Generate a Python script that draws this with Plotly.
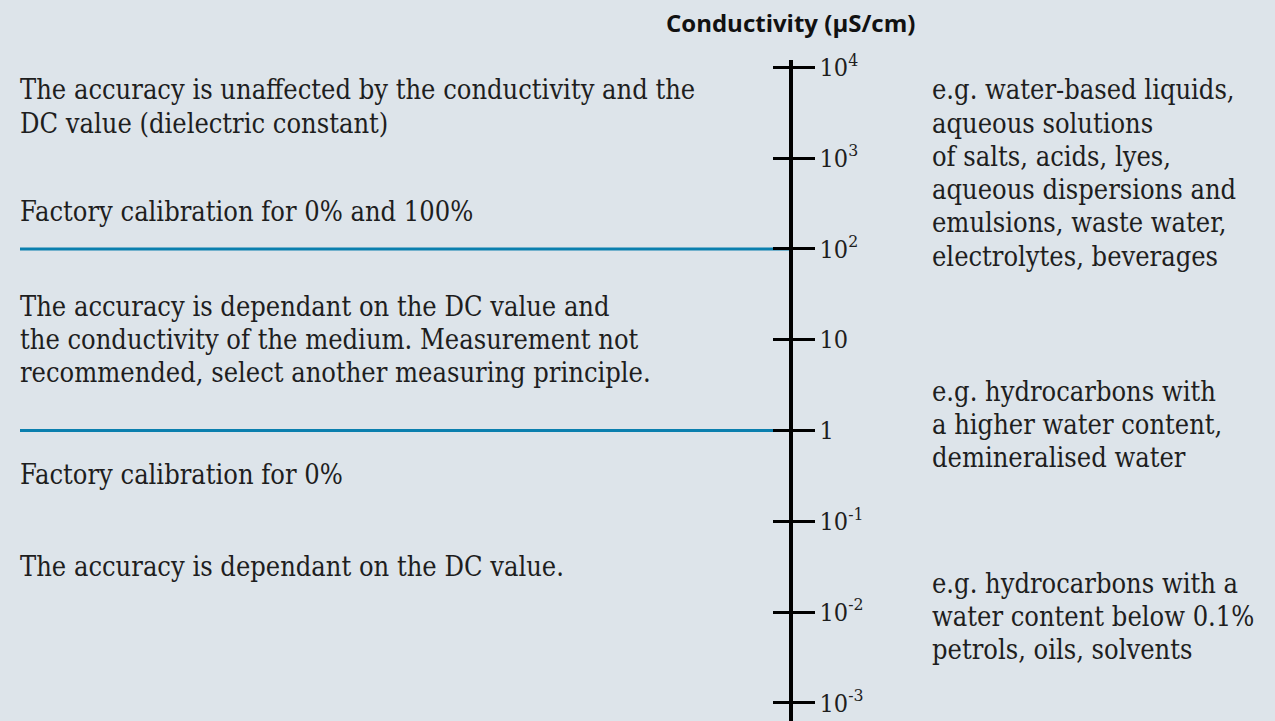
import plotly.graph_objects as go

# ---- data ----
decade_values = [1e4, 1e3, 1e2, 1e1, 1e0, 1e-1, 1e-2, 1e-3]
tick_labels = ["10<sup>4</sup>", "10<sup>3</sup>", "10<sup>2</sup>", "10", "1",
               "10<sup>-1</sup>", "10<sup>-2</sup>", "10<sup>-3</sup>"]
calibration_limits = [1e2, 1e0]

axis_title = "Conductivity (μS/cm)"

left_texts = [
    ["The accuracy is unaffected by the conductivity and the",
     "DC value (dielectric constant)"],
    ["Factory calibration for 0% and 100%"],
    ["The accuracy is dependant on the DC value and",
     "the conductivity of the medium. Measurement not",
     "recommended, select another measuring principle."],
    ["Factory calibration for 0%"],
    ["The accuracy is dependant on the DC value."],
]
right_texts = [
    ["e.g. water-based liquids,", "aqueous solutions", "of salts, acids, lyes,",
     "aqueous dispersions and", "emulsions, waste water,", "electrolytes, beverages"],
    ["e.g. hydrocarbons with", "a higher water content,", "demineralised water"],
    ["e.g. hydrocarbons with a", "water content below 0.1%", "petrols, oils, solvents"],
]

# ---- layout constants ----
W, H = 1275, 721
BG = "#dde4ea"
BLUE = "#0a7fae"
TXT = "#1e1e1e"
FONT = "DejaVu Serif Condensed, DejaVu Serif"
FS = 27
TICK_FS = 25
LINE = 33.8
AX_X = 790.5 / W

# first-line pixel centres of each block
left_tops = [80, 204, 300, 471, 564]
right_tops = [80, 386, 581]
LEFT_X = 18 / W
RIGHT_X = 930 / W
LINE_X0 = 20 / W

# log axis mapping (px per decade)
px_per_dec = 92.2
ref_k, ref_px = 0.0, 426.0
top_px = 50
k_top = ref_k + (ref_px - top_px) / px_per_dec
k_bot = ref_k - (H - ref_px) / px_per_dec
dom_top = 1 - top_px / H

fig = go.Figure()
fig.add_trace(go.Scatter(x=[AX_X] * len(decade_values), y=decade_values, mode="markers",
                         marker=dict(opacity=0), hoverinfo="skip", showlegend=False,
                         xaxis="x", yaxis="y"))
fig.add_trace(go.Scatter(x=[AX_X] * len(decade_values), y=decade_values, mode="markers",
                         marker=dict(opacity=0), hoverinfo="skip", showlegend=False,
                         xaxis="x", yaxis="y2"))

for v in calibration_limits:
    fig.add_shape(type="line", xref="paper", yref="y", x0=LINE_X0, x1=AX_X, y0=v, y1=v,
                  line=dict(color=BLUE, width=3), layer="below")

annotations = []
for block, top in zip(left_texts, left_tops):
    for i, line in enumerate(block):
        annotations.append(dict(x=LEFT_X, y=1 - (top + i * LINE) / H, xref="paper", yref="paper",
                                text=line, showarrow=False, xanchor="left", yanchor="middle",
                                font=dict(family=FONT, size=FS, color=TXT)))
for block, top in zip(right_texts, right_tops):
    for i, line in enumerate(block):
        annotations.append(dict(x=RIGHT_X, y=1 - (top + i * LINE) / H, xref="paper", yref="paper",
                                text=line, showarrow=False, xanchor="left", yanchor="middle",
                                font=dict(family=FONT, size=FS, color=TXT)))
annotations.append(dict(x=AX_X, y=1 - 12 / H, xref="paper", yref="paper",
                        text="<b>" + axis_title + "</b>", showarrow=False,
                        xanchor="center", yanchor="middle",
                        font=dict(family="Open Sans", size=24, color="#111111")))

common_y = dict(type="log", range=[k_bot, k_top], domain=[0, dom_top], anchor="free",
                position=AX_X, showgrid=False, zeroline=False, tickvals=decade_values,
                tickwidth=3, tickcolor="black", ticks="outside", fixedrange=True)

fig.update_layout(
    width=W, height=H, margin=dict(l=0, r=0, t=0, b=0),
    paper_bgcolor=BG, plot_bgcolor=BG, showlegend=False,
    xaxis=dict(range=[0, 1], visible=False, fixedrange=True),
    yaxis=dict(**common_y, side="right", ticklen=22, showline=True, linewidth=4,
               linecolor="black", ticktext=tick_labels, ticklabelstandoff=0,
               tickfont=dict(family=FONT, size=TICK_FS, color=TXT)),
    yaxis2=dict(**common_y, side="left", overlaying="y", ticklen=18, showline=False,
                showticklabels=False),
    annotations=annotations,
)

fig.write_html("out.html", config={"displayModeBar": False},
               post_script="document.body.style.margin='0';")
